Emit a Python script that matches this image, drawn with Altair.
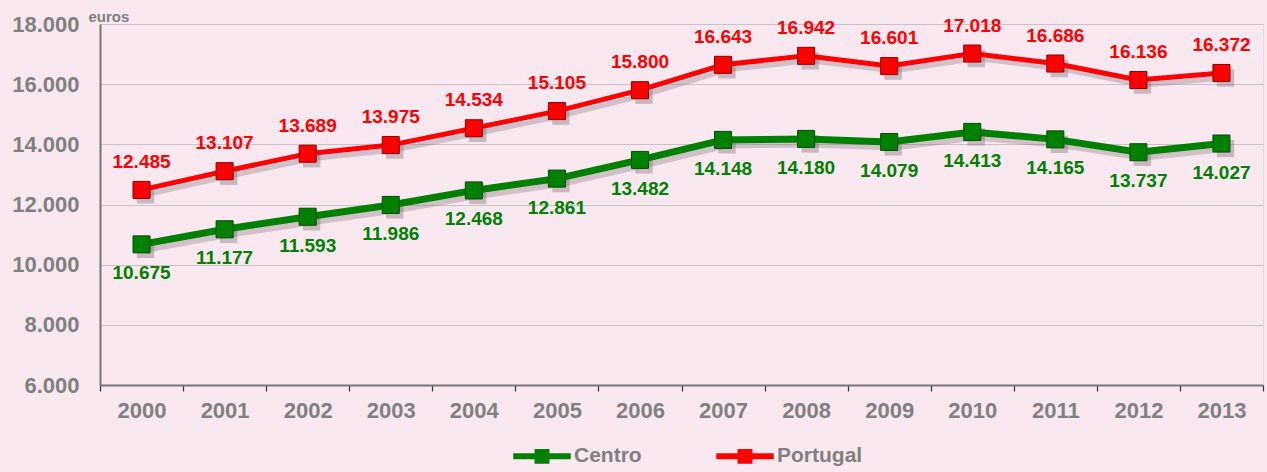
import altair as alt
import pandas as pd

# Disposable income per inhabitant (euros), Centro region vs Portugal
years = [str(y) for y in range(2000, 2014)]
centro = [10675, 11177, 11593, 11986, 12468, 12861, 13482, 14148, 14180, 14079, 14413, 14165, 13737, 14027]
portugal = [12485, 13107, 13689, 13975, 14534, 15105, 15800, 16643, 16942, 16601, 17018, 16686, 16136, 16372]
series_names = ["Centro", "Portugal"]
series_colors = ["#008000", "#FF0000"]
border_colors = ["#004d00", "#8a0000"]
line_widths = [7, 5]
y_ticks = [6000, 8000, 10000, 12000, 14000, 16000, 18000]

df = pd.DataFrame(
    {"ano": years * 2,
     "serie": ["Centro"] * len(years) + ["Portugal"] * len(years),
     "valor": centro + portugal}
)

GRAY = "#808080"
FONT = "Liberation Sans"

x_enc = alt.X("ano:N", title=None, sort=years,
              scale=alt.Scale(paddingInner=0, paddingOuter=0),
              axis=alt.Axis(tickBand="extent", labelAngle=0, labelFontSize=22,
                            labelFontWeight="bold", labelColor=GRAY, labelPadding=9,
                            domainColor="#777277", domainWidth=2, tickColor="#333",
                            tickSize=6, tickWidth=1.2, grid=False))
y_enc = alt.Y("valor:Q", scale=alt.Scale(domain=[6000, 18000], nice=False, zero=False),
              axis=alt.Axis(values=y_ticks, format=",.0f", labelFontSize=22,
                            labelFontWeight="bold", labelColor=GRAY, labelPadding=21,
                            ticks=False, domainColor="#777277", domainWidth=2,
                            gridColor="#c9c1c5", gridWidth=1.2,
                            title="euros", titleAngle=0, titleAlign="left",
                            titleBaseline="middle", titleX=-12, titleY=-8,
                            titleFontSize=15, titleFontWeight="bold", titleColor=GRAY))

# legend glyph (stroked): a line segment with a small solid square in the middle
legend_glyph = ("M-1,0 L1,0 "
                "M-0.26,-0.15 L0.26,-0.15 M-0.26,-0.05 L0.26,-0.05 "
                "M-0.26,0.05 L0.26,0.05 M-0.26,0.15 L0.26,0.15")
legend = alt.Legend(
    title=None, orient="none", legendX=410, legendY=400, direction="horizontal",
    symbolType=legend_glyph, symbolSize=3300, symbolStrokeWidth=6,
    labelFontSize=21, labelFontWeight="bold",
    labelColor=GRAY, labelOffset=0, columnPadding=62, labelFont=FONT,
)
color_enc = alt.Color("serie:N", scale=alt.Scale(domain=series_names, range=series_colors),
                      legend=legend)

base = alt.Chart(df).encode(x=x_enc, y=y_enc)

layers = []
# soft drop shadows under the lines and markers
for name, w in zip(series_names, line_widths):
    sub = base.transform_filter(alt.datum.serie == name)
    layers.append(sub.mark_line(color="#6d5a63", opacity=0.28, strokeWidth=w, xOffset=4, yOffset=5))
    layers.append(sub.mark_square(color="#6d5a63", opacity=0.35, size=300, xOffset=4, yOffset=5))

# coloured lines (these carry the legend) and square markers
for name, w in zip(series_names, line_widths):
    sub = base.transform_filter(alt.datum.serie == name)
    layers.append(sub.mark_line(strokeWidth=w).encode(color=color_enc))
for name, fill, edge in zip(series_names, series_colors, border_colors):
    sub = base.transform_filter(alt.datum.serie == name)
    layers.append(sub.mark_point(shape="square", filled=True, size=290, fill=fill, stroke=edge,
                                 strokeWidth=1, opacity=1))

# value labels: Portugal above, Centro below
layers.append(base.transform_filter(alt.datum.serie == "Portugal").mark_text(
    dy=-28, fontSize=19, fontWeight="bold", color="#FF0000", font=FONT
).encode(text=alt.Text("valor:Q", format=",.0f")))
layers.append(base.transform_filter(alt.datum.serie == "Centro").mark_text(
    dy=29, fontSize=19, fontWeight="bold", color="#008000", font=FONT
).encode(text=alt.Text("valor:Q", format=",.0f")))

chart = alt.layer(*layers).properties(
    width=1163, height=361,
    autosize=alt.AutoSizeParams(type="none"),
    padding={"left": 100, "top": 24, "right": 4, "bottom": 87},
    background="#FAE8F0",
).configure_view(stroke=None).configure(
    font=FONT,
    locale={"number": {"decimal": ",", "thousands": ".", "grouping": [3], "currency": ["", " €"]}},
)

chart.save("out.html", embed_options={"renderer": "svg", "actions": False})
